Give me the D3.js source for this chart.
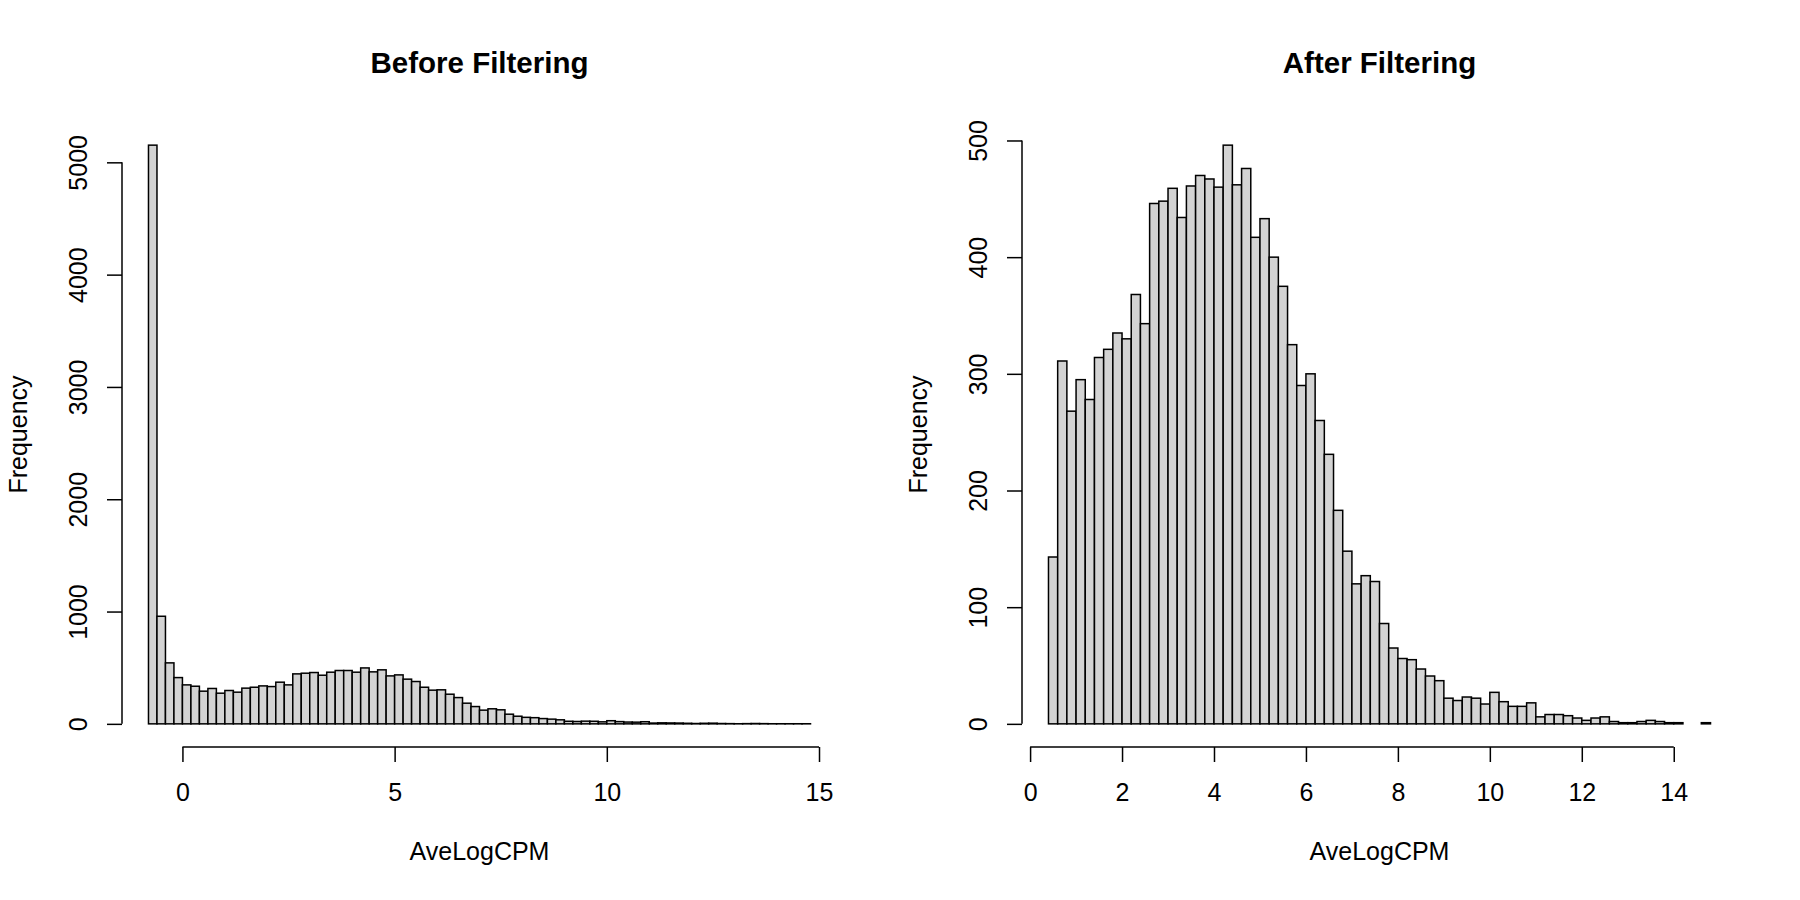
<!DOCTYPE html>
<html>
<head>
<meta charset="utf-8">
<script src="https://cdn.jsdelivr.net/npm/d3@7"></script>
<style>
  body { margin: 0; background: #fff; }
  svg text { font-family: "Liberation Sans", Arial, sans-serif; fill: #000; }
</style>
</head>
<body>
<svg class="main" width="1800" height="900"></svg>
<script>
// bin width of both histograms
const binWidth = 0.2;

// Before Filtering: left edge of the first bin and the counts per bin
const beforeStart = -0.8;
const beforeCounts = [
  5153, 958, 543, 412, 347, 335, 291, 315, 273, 297,
  282, 318, 326, 338, 332, 371, 347, 445, 451, 457,
  433, 460, 475, 475, 460, 498, 463, 481, 427, 436,
  398, 377, 326, 300, 303, 264, 234, 184, 154, 122,
  134, 125, 86, 68, 58, 55, 47, 42, 36, 23,
  21, 24, 23, 18, 28, 20, 16, 15, 19, 7,
  9, 8, 7, 5, 3, 5, 6, 3, 2, 1,
  2, 3, 2, 1, 1, 1, 1, 1
];

// After Filtering
const afterStart = 0.4;
const afterCounts = [
  143, 311, 268, 295, 278, 314, 321, 335, 330, 368,
  343, 446, 448, 459, 434, 461, 470, 467, 460, 496,
  462, 476, 417, 433, 400, 375, 325, 290, 300, 260,
  231, 183, 148, 120, 127, 122, 86, 65, 56, 55,
  47, 41, 37, 22, 20, 23, 22, 17, 27, 19,
  15, 15, 18, 6, 8, 8, 7, 5, 3, 5,
  6, 2, 1, 1, 2, 3, 2, 1, 1, 0,
  0, 1
];

const beforeXTicks = [0, 5, 10, 15];
const beforeYTicks = [0, 1000, 2000, 3000, 4000, 5000];
const afterXTicks = [0, 2, 4, 6, 8, 10, 12, 14];
const afterYTicks = [0, 100, 200, 300, 400, 500];

const titles = ["Before Filtering", "After Filtering"];
const xLabel = "AveLogCPM";
const yLabel = "Frequency";

const drawHist = (offset, start, counts, xTicks, yTicks, title) => {
    const svg = d3.select("svg.main");
    const g = svg.append("g").attr("transform", `translate(${offset},0)`);

    // plot region of one panel (R default margins)
    const left = 122, right = 837, top = 122, bottom = 747;

    const end = start + counts.length * binWidth;
    const span = end - start;
    const x = d3.scaleLinear()
        .domain([start - 0.04 * span, end + 0.04 * span])
        .range([left, right]);
    const ymax = d3.max(counts);
    const y = d3.scaleLinear()
        .domain([-0.04 * ymax, 1.04 * ymax])
        .range([bottom, top]);

    const bins = counts.map((n, i) => ({
        x0: start + i * binWidth,
        x1: start + (i + 1) * binWidth,
        n: n
    }));

    g.selectAll("rect.bar")
        .data(bins)
        .join("rect")
        .attr("class", "bar")
        .attr("x", d => x(d.x0))
        .attr("width", d => x(d.x1) - x(d.x0))
        .attr("y", d => y(d.n))
        .attr("height", d => y(0) - y(d.n))
        .attr("fill", "#d3d3d3")
        .attr("stroke", "#000")
        .attr("stroke-width", 1.5);

    // x axis, line only between first and last tick like in R
    const xAxis = g.append("g")
        .attr("transform", `translate(0,${bottom})`)
        .call(d3.axisBottom(x).tickValues(xTicks).tickFormat(d3.format("d")).tickSize(15).tickSizeOuter(0));
    xAxis.attr("font-size", 25).attr("font-family", null);
    xAxis.select(".domain")
        .attr("d", `M${x(xTicks[0])},0H${x(xTicks[xTicks.length - 1])}`);
    xAxis.selectAll("path, line").attr("stroke", "#000").attr("stroke-width", 1.5);
    xAxis.selectAll("text").attr("y", 54).attr("dy", null);

    // y axis with rotated labels
    const yAxis = g.append("g")
        .attr("transform", `translate(${left},0)`)
        .call(d3.axisLeft(y).tickValues(yTicks).tickFormat(d3.format("d")).tickSize(15).tickSizeOuter(0));
    yAxis.attr("font-size", 25).attr("font-family", null);
    yAxis.select(".domain")
        .attr("d", `M0,${y(yTicks[0])}V${y(yTicks[yTicks.length - 1])}`);
    yAxis.selectAll("path, line").attr("stroke", "#000").attr("stroke-width", 1.5);
    yAxis.selectAll("text")
        .attr("x", null)
        .attr("dy", null)
        .attr("text-anchor", "middle")
        .attr("transform", "translate(-35.4,0) rotate(-90)");

    // titles
    g.append("text")
        .attr("x", (left + right) / 2)
        .attr("y", 72.7)
        .attr("text-anchor", "middle")
        .attr("font-size", 29.5)
        .attr("font-weight", "bold")
        .text(title);

    g.append("text")
        .attr("x", (left + right) / 2)
        .attr("y", 860)
        .attr("text-anchor", "middle")
        .attr("font-size", 25)
        .text(xLabel);

    g.append("text")
        .attr("transform", `translate(27.3,${(top + bottom) / 2}) rotate(-90)`)
        .attr("text-anchor", "middle")
        .attr("font-size", 25)
        .text(yLabel);
}

drawHist(0, beforeStart, beforeCounts, beforeXTicks, beforeYTicks, titles[0]);
drawHist(900, afterStart, afterCounts, afterXTicks, afterYTicks, titles[1]);
</script>
</body>
</html>
